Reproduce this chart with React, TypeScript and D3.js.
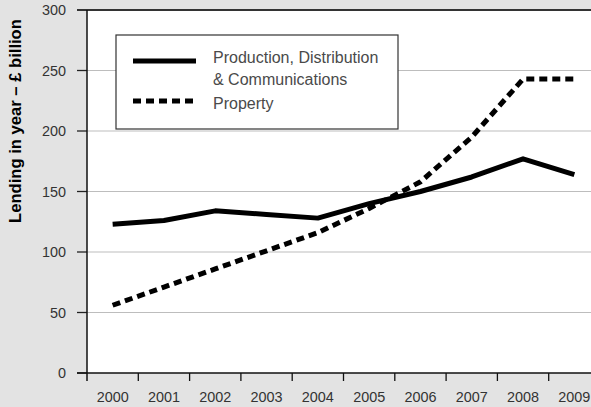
import React from "react";
import * as d3 from "d3";

const years = ["2000", "2001", "2002", "2003", "2004", "2005", "2006", "2007", "2008", "2009"];
const production = [123, 126, 134, 131, 128, 140, 150, 162, 177, 164];
const property = [56, 71, 86, 101, 116, 136, 158, 195, 243, 243];
const yTicks = [0, 50, 100, 150, 200, 250, 300];
const seriesNames = ["Production, Distribution", "& Communications", "Property"];

const W = 591;
const H = 407;
const FONT = "'Liberation Sans', Arial, Helvetica, sans-serif";

const App = () => {
  const x = d3.scaleBand().domain(years).range([87, 600]);
  const y = d3.scaleLinear().domain([0, 300]).range([373, 10]);
  const cx = (i: number) => (x(years[i]) as number) + x.bandwidth() / 2;

  const line = d3
    .line<number>()
    .x((d, i) => cx(i))
    .y((d) => y(d));

  const left = 87;
  const right = W;

  return (
    <svg width={W} height={H} style={{ display: "block", position: "absolute", left: 0, top: 0 }}>
      <rect x={0} y={0} width={W} height={H} fill="#e3e3e3" />
      <rect x={left} y={y(300)} width={right - left} height={y(0) - y(300)} fill="#ffffff" />

      {/* gridlines + y ticks */}
      {yTicks.map((t) => (
        <g key={t}>
          {t > 0 && t < 300 && (
            <line x1={left} x2={right} y1={y(t)} y2={y(t)} stroke="#bdbdbd" strokeWidth={1.2} />
          )}
          <line x1={left - 10} x2={left} y1={y(t)} y2={y(t)} stroke="#222" strokeWidth={1.3} />
          <text
            x={66}
            y={y(t)}
            dy="0.35em"
            textAnchor="end"
            fontFamily={FONT}
            fontSize={14.4}
            fill="#333"
          >
            {t}
          </text>
        </g>
      ))}
      <line x1={left - 10} x2={right} y1={y(300)} y2={y(300)} stroke="#333" strokeWidth={2} />

      {/* axes */}
      <line x1={left} x2={left} y1={y(300)} y2={y(0) + 8} stroke="#111" strokeWidth={1.5} />
      <line x1={left - 10} x2={right} y1={y(0)} y2={y(0)} stroke="#111" strokeWidth={1.5} />
      {years.map((yr, i) => (
        <g key={yr}>
          {i > 0 && (
            <line
              x1={x(yr) as number}
              x2={x(yr) as number}
              y1={y(0)}
              y2={y(0) + 8}
              stroke="#111"
              strokeWidth={1.3}
            />
          )}
          <text
            x={cx(i)}
            y={397}
            dy="0.35em"
            textAnchor="middle"
            fontFamily={FONT}
            fontSize={14.4}
            fill="#333"
          >
            {yr}
          </text>
        </g>
      ))}

      {/* series */}
      <path d={line(property) || ""} fill="none" stroke="#000" strokeWidth={5} strokeDasharray="8,5" />
      <path d={line(production) || ""} fill="none" stroke="#000" strokeWidth={5} strokeLinejoin="round" />

      {/* legend */}
      <rect x={116} y={35} width={282} height={94} fill="#fff" stroke="#333" strokeWidth={1.2} />
      <line x1={133} x2={196} y1={61} y2={61} stroke="#000" strokeWidth={5} />
      <line x1={133} x2={196} y1={101} y2={101} stroke="#000" strokeWidth={5} strokeDasharray="8,5" />
      <text x={213} y={57} dy="0.35em" fontFamily={FONT} fontSize={16} fill="#4a4a4a">
        {seriesNames[0]}
      </text>
      <text x={213} y={79} dy="0.35em" fontFamily={FONT} fontSize={16} fill="#4a4a4a">
        {seriesNames[1]}
      </text>
      <text x={213} y={103} dy="0.35em" fontFamily={FONT} fontSize={16} fill="#4a4a4a">
        {seriesNames[2]}
      </text>

      {/* y title */}
      <text
        transform={`translate(15, 121) rotate(-90)`}
        textAnchor="middle"
        dy="0.35em"
        fontFamily={FONT}
        fontSize={16.6}
        fontWeight="bold"
        fill="#000"
      >
        Lending in year – £ billion
      </text>
    </svg>
  );
};

export default App;
